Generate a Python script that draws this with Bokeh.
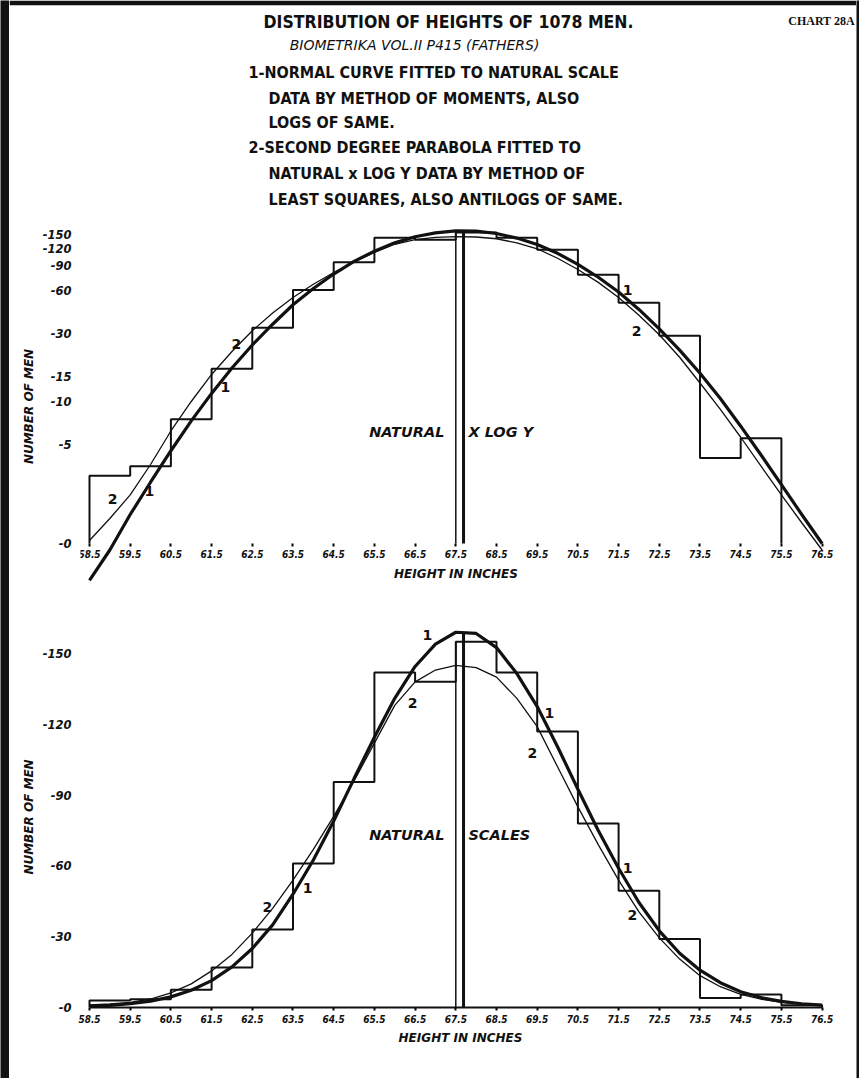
from bokeh.plotting import figure
from bokeh.layouts import row, column
from bokeh.models import Range1d, FixedTicker, ColumnDataSource
from bokeh.core.properties import value
from bokeh.embed import file_html
from bokeh.resources import INLINE

# ---------------- data ----------------
bin_edges = [58.5, 59.5, 60.5, 61.5, 62.5, 63.5, 64.5, 65.5, 66.5, 67.5,
             68.5, 69.5, 70.5, 71.5, 72.5, 73.5, 74.5, 75.5, 76.5]
x_tick_labels = ["58.5", "59.5", "60.5", "61.5", "62.5", "63.5", "64.5", "65.5", "66.5", "67.5",
                 "68.5", "69.5", "70.5", "71.5", "72.5", "73.5", "74.5", "75.5", "76.5"]
counts = [3, 3.5, 7.5, 17, 33, 61, 95.5, 142, 138, 155, 142, 117, 78, 49.5, 29, 4, 5.5, 1]

curve_x = [58.5, 59.0, 59.5, 60.0, 60.5, 61.0, 61.5, 62.0, 62.5, 63.0, 63.5, 64.0, 64.5,
           65.0, 65.5, 66.0, 66.5, 67.0, 67.5, 68.0, 68.5, 69.0, 69.5, 70.0, 70.5, 71.0,
           71.5, 72.0, 72.5, 73.0, 73.5, 74.0, 74.5, 75.0, 75.5, 76.0, 76.5]
normal_fit = [0.55, 0.9, 1.6, 2.7, 4.5, 7.3, 11.4, 17.2, 25.0, 35.0, 48.0, 62.5, 79.0,
              97.0, 114.5, 131.0, 144.5, 154.0, 159.0, 158.5, 152.5, 141.5, 127.5, 110.5, 92.5, 75.0,
              59.0, 44.5, 32.5, 23.0, 15.8, 10.5, 6.7, 4.2, 2.6, 1.6, 1.0]
parabola_fit = [1.05, 1.5, 2.2, 3.6, 6.2, 10.0, 15.5, 22.5, 31.5, 42.0, 54.0, 67.0, 81.0,
                96.0, 112.0, 128.0, 138.0, 143.0, 145.0, 144.0, 140.0, 131.0, 119.0, 102.0, 85.0, 69.0,
                54.0, 40.5, 29.5, 20.5, 13.5, 8.8, 5.6, 3.5, 2.2, 1.4, 0.9]
mean_height = 67.69
modal_bin = 9

log_ticks = [1, 5, 10, 15, 30, 60, 90, 120, 150]
log_tick_labels = ["-0", "-5", "-10", "-15", "-30", "-60", "-90", "-120", "-150"]
lin_ticks = [0, 30, 60, 90, 120, 150]
lin_tick_labels = ["-0", "-30", "-60", "-90", "-120", "-150"]

title = "DISTRIBUTION OF HEIGHTS OF 1078 MEN."
chart_no = "CHART 28A"
source_line = "BIOMETRIKA VOL.II P415 (FATHERS)"
notes = ["1-NORMAL CURVE FITTED TO NATURAL SCALE",
         "DATA BY METHOD OF MOMENTS, ALSO",
         "LOGS OF SAME.",
         "2-SECOND DEGREE PARABOLA FITTED TO",
         "NATURAL x LOG Y DATA BY METHOD  OF",
         "LEAST SQUARES, ALSO ANTILOGS OF SAME."]

HAND = "DejaVu Sans"
COND = "DejaVu Sans Condensed"
BLACK = "#111111"


def steps(base):
    last = len(counts)
    while last > 0 and counts[last - 1] <= base:
        last -= 1
    xs, ys = [bin_edges[0]], [base]
    for i in range(last):
        xs += [bin_edges[i], bin_edges[i + 1]]
        ys += [counts[i], counts[i]]
    xs.append(bin_edges[last])
    ys.append(base)
    if base == 0 and last < len(counts):
        xs.append(bin_edges[-1])
        ys.append(base)
    return xs, ys


X_RANGE = (58.2789, 76.9521)


def style_axes(p, yticks, ylabels):
    p.xgrid.visible = False
    p.ygrid.visible = False
    p.outline_line_color = None
    p.background_fill_color = "white"
    p.border_fill_color = "white"
    xa = p.xaxis[0]
    xa.ticker = FixedTicker(ticks=bin_edges)
    xa.major_label_overrides = dict(zip(bin_edges, x_tick_labels))
    xa.bounds = (bin_edges[0], bin_edges[-1])
    xa.minor_tick_line_color = None
    xa.major_tick_in = 0
    xa.major_tick_out = 3
    xa.major_tick_line_width = 2
    xa.major_label_standoff = 4
    xa.major_label_text_font = COND
    xa.major_label_text_font_style = "bold italic"
    xa.major_label_text_font_size = "10px"
    xa.major_label_text_color = BLACK
    xa.axis_label = "HEIGHT IN INCHES"
    xa.axis_label_text_font = HAND
    xa.axis_label_text_font_style = "bold italic"
    xa.axis_label_text_font_size = "12px"
    xa.axis_label_text_color = BLACK
    xa.axis_label_standoff = 5
    ya = p.yaxis[0]
    ya.ticker = FixedTicker(ticks=yticks)
    ya.major_label_overrides = dict(zip(yticks, ylabels))
    ya.axis_line_color = None
    ya.major_tick_line_color = None
    ya.minor_tick_line_color = None
    ya.major_label_standoff = 3
    ya.major_label_text_font = HAND
    ya.major_label_text_font_style = "bold italic"
    ya.major_label_text_font_size = "11.5px"
    ya.major_label_text_color = BLACK
    ya.axis_label = "NUMBER OF MEN"
    ya.axis_label_text_font = HAND
    ya.axis_label_text_font_style = "bold italic"
    ya.axis_label_text_font_size = "12px"
    ya.axis_label_text_color = BLACK
    ya.axis_label_standoff = 4


def draw_chart(p, base):
    sx, sy = steps(base)
    p.line(sx, sy, line_color=BLACK, line_width=2)
    p.line(curve_x, parabola_fit, line_color=BLACK, line_width=1.3)
    p.line(curve_x, normal_fit, line_color=BLACK, line_width=3.2)
    p.segment(x0=[bin_edges[modal_bin]], y0=[base], x1=[bin_edges[modal_bin]],
              y1=[counts[modal_bin]], line_color=BLACK, line_width=1.5)
    p.segment(x0=[mean_height], y0=[base], x1=[mean_height], y1=[max(normal_fit)],
              line_color=BLACK, line_width=3)


def scale_caption(p, left_text, right_text, y):
    p.text(x=[bin_edges[modal_bin] - 0.28], y=[y], text=[left_text], text_font=value(HAND),
           text_font_size="14.5px", text_font_style="bold italic", text_align="right",
           text_baseline="middle", text_color=BLACK)
    p.text(x=[mean_height + 0.12], y=[y], text=[right_text], text_font=value(HAND),
           text_font_size="14.5px", text_font_style="bold italic", text_align="left",
           text_baseline="middle", text_color=BLACK)


# ---------------- header (page-pixel coordinates) ----------------
head = figure(width=847, height=224, x_range=Range1d(9, 856), y_range=Range1d(224, 5),
              output_backend="svg", toolbar_location=None,
              x_axis_location=None, y_axis_location=None,
              min_border_top=5, min_border_bottom=0, min_border_left=0, min_border_right=0)
head.grid.visible = False
head.outline_line_color = None
head.background_fill_color = "white"
head.border_fill_color = BLACK

head.text(x=[448], y=[21], text=[title], text_font=value(COND), text_font_style="bold",
          text_font_size="17.5px", text_align="center", text_baseline="middle", text_color=BLACK)
head.text(x=[821], y=[20], text=[chart_no], text_font=value("Liberation Serif"),
          text_font_style="bold", text_font_size="12px", text_align="center",
          text_baseline="middle", text_color=BLACK)
head.text(x=[414], y=[44], text=[source_line], text_font=value(HAND), text_font_style="italic",
          text_font_size="14px", text_align="center", text_baseline="middle", text_color=BLACK)
note_src = ColumnDataSource(dict(x=[248, 268, 268, 248, 268, 268],
                                 y=[72, 98, 122, 147, 173, 199], t=notes))
head.text(x="x", y="y", text="t", source=note_src, text_font=value(COND),
          text_font_style="bold", text_font_size="16px", text_align="left",
          text_baseline="middle", text_color=BLACK)

# ---------------- top chart: natural x, log y ----------------
top = figure(width=847, height=400, x_range=Range1d(*X_RANGE),
             y_range=Range1d(0.5143, 165.3), y_axis_type="log",
             output_backend="svg", toolbar_location=None,
             min_border_left=71, min_border_right=16, min_border_top=4, min_border_bottom=40)
style_axes(top, log_ticks, log_tick_labels)
top.xaxis[0].fixed_location = 1
top.xaxis[0].axis_line_color = None
draw_chart(top, 1)

top_labels = ColumnDataSource(dict(
    x=[59.07, 59.97, 62.11, 61.84, 71.72, 71.94],
    y=[2.07, 2.36, 25.6, 12.6, 60.5, 31.6],
    t=["2", "1", "2", "1", "1", "2"]))
top.text(x="x", y="y", text="t", source=top_labels, text_font=value(HAND),
         text_font_size="14px", text_font_style="bold", text_align="center",
         text_baseline="middle", text_color=BLACK)
scale_caption(top, "NATURAL", "X LOG Y", 6.05)

# ---------------- bottom chart: natural scales ----------------
bot = figure(width=847, height=454, x_range=Range1d(*X_RANGE),
             y_range=Range1d(0, 161.44),
             output_backend="svg", toolbar_location=None,
             min_border_left=71, min_border_right=16, min_border_top=2, min_border_bottom=71)
style_axes(bot, lin_ticks, lin_tick_labels)
bot.xaxis[0].axis_line_color = BLACK
bot.xaxis[0].axis_line_width = 2
draw_chart(bot, 0)

bot_labels = ColumnDataSource(dict(
    x=[66.80, 66.44, 63.86, 62.87, 69.80, 69.38, 71.72, 71.84],
    y=[158, 129, 50.8, 42.4, 124.6, 108, 58.9, 39],
    t=["1", "2", "1", "2", "1", "2", "1", "2"]))
bot.text(x="x", y="y", text="t", source=bot_labels, text_font=value(HAND),
         text_font_size="14px", text_font_style="bold", text_align="center",
         text_baseline="middle", text_color=BLACK)
scale_caption(bot, "NATURAL", "SCALES", 72.9)


# ---------------- frame bars ----------------
def bar(w, h):
    b = figure(width=w, height=h, output_backend="svg", toolbar_location=None,
               x_axis_location=None, y_axis_location=None, min_border=0,
               x_range=Range1d(0, 1), y_range=Range1d(0, 1))
    b.grid.visible = False
    b.outline_line_color = None
    b.background_fill_color = BLACK
    b.border_fill_color = BLACK
    return b


layout = row(bar(9, 1078), column(head, column(top, bot)), bar(3, 1078))

open("out.html", "w").write(file_html(layout, INLINE))
